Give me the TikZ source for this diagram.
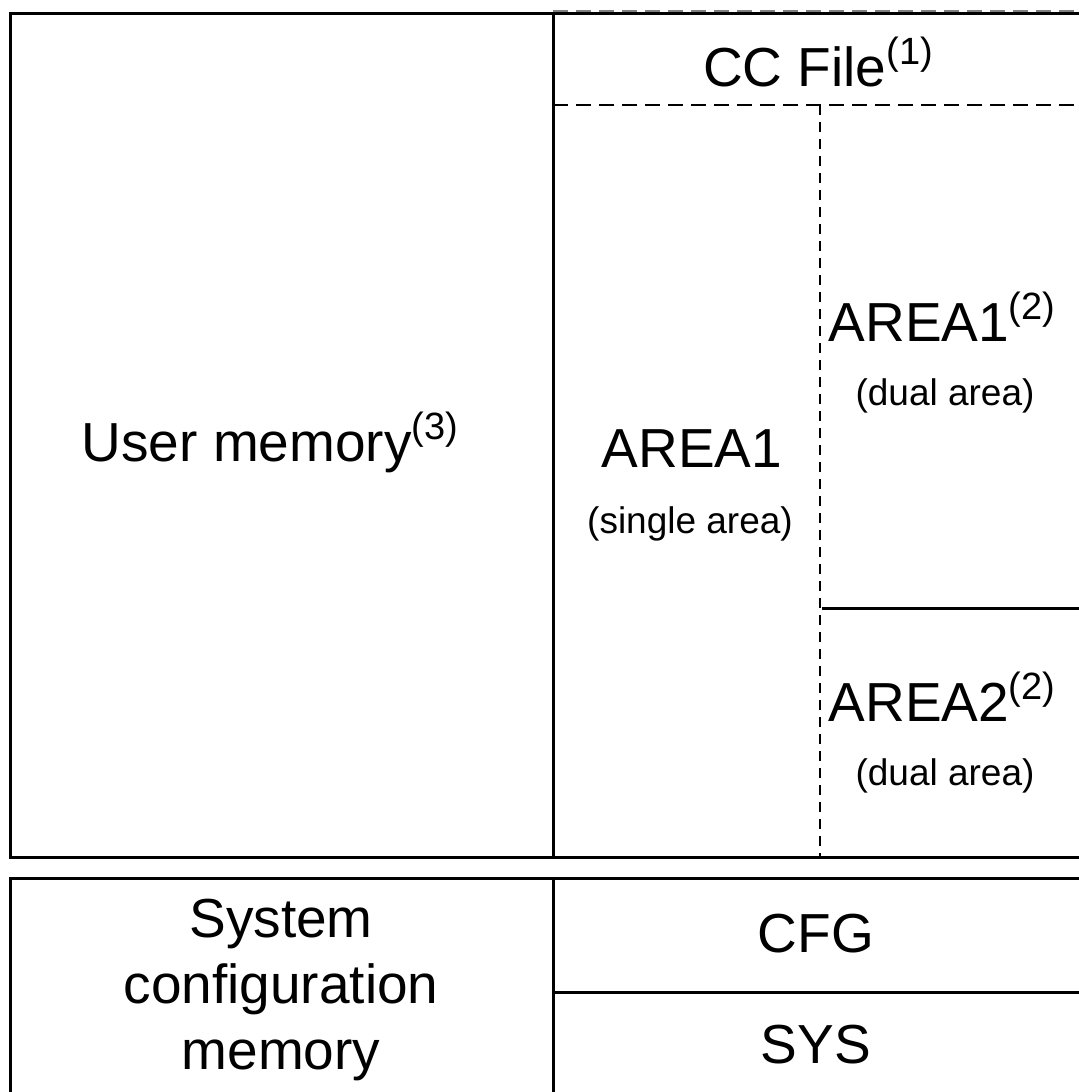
\documentclass[tikz,border=0pt]{standalone}
\usepackage{fontspec}
\setmainfont{Liberation Sans}
\newcommand{\fnote}[1]{\raisebox{11pt}{\fontsize{19}{19}\selectfont(#1)}}

\begin{document}
\begin{tikzpicture}[x=0.5pt,y=-0.5pt,
  memline/.style={line width=1.5pt},
  dashline/.style={line width=1pt,dash pattern=on 7.5pt off 4pt},
  vdashline/.style={line width=1pt,dash pattern=on 5pt off 3.5pt},
  bigtxt/.style={font=\fontsize{27.5}{33}\selectfont,align=center,inner sep=0pt},
  smalltxt/.style={font=\fontsize{18.5}{22}\selectfont,inner sep=0pt}]
\useasboundingbox (0,0) rectangle (1078,1092);
% user memory
\draw[dashline,gray] (553,11) -- (1085,11);
\draw[memline] (1085,13) -- (10,13) -- (10,857) -- (1085,857);
\draw[memline] (553,13) -- (553,857);
\draw[dashline] (553,105) -- (1085,105);
\draw[vdashline] (820,105) -- (820,857);
\draw[memline] (822,608) -- (1085,608);
\node[bigtxt,anchor=base] (user) at (270,461) {User memory\fnote{3}};
\node[bigtxt,anchor=base] (ccfile) at (818,86) {CC File\fnote{1}};
\node[bigtxt,anchor=base] (single) at (692,467) {AREA1};
\node[smalltxt,anchor=base] (singlenote) at (690,533) {(single area)};
\node[bigtxt,anchor=base] (dualone) at (942,341) {AREA1\fnote{2}};
\node[smalltxt,anchor=base] (dualonenote) at (945,405) {(dual area)};
\node[bigtxt,anchor=base] (dualtwo) at (942,721) {AREA2\fnote{2}};
\node[smalltxt,anchor=base] (dualtwonote) at (945,785) {(dual area)};
% system configuration memory
\draw[memline] (1085,878) -- (10,878) -- (10,1100);
\draw[memline] (553,878) -- (553,1100);
\draw[memline] (553,992) -- (1085,992);
\node[bigtxt] (sysconf) at (281,990) {System\\configuration\\memory};
\node[bigtxt,anchor=base] (cfg) at (816,952) {CFG};
\node[bigtxt,anchor=base] (sys) at (816,1063) {SYS};
\end{tikzpicture}
\end{document}
